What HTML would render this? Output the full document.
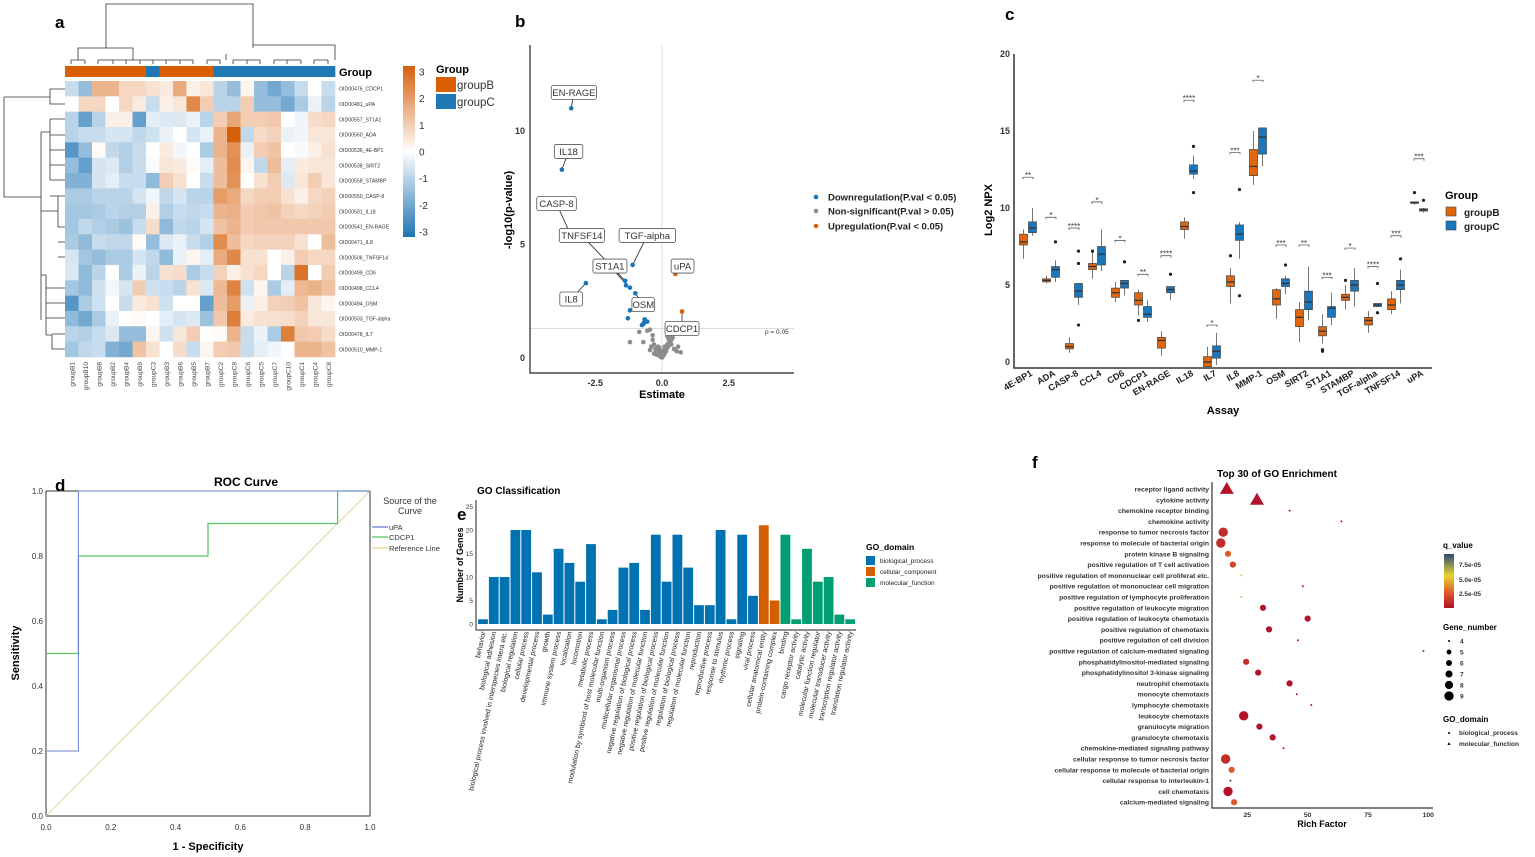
<!DOCTYPE html>
<html><head><meta charset="utf-8">
<style>
html,body{margin:0;padding:0;background:#fff;}
svg{display:block;font-family:"Liberation Sans",sans-serif;}
</style></head>
<body>
<svg id="fig" width="1535" height="857" viewBox="0 0 1535 857" xmlns="http://www.w3.org/2000/svg">
<g id="pa"></g>
<g id="pb"></g>
<g id="pc"></g>
<g id="pd"></g>
<g id="pe"></g>
<g id="pf"></g>
</svg>
<script>
// ---------- Panel a data ----------
const hmCols=["groupB1","groupB10","groupB8","groupB2","groupB4","groupB9","groupC3","groupB3","groupB6","groupB5","groupB7","groupC2","groupC9","groupC6","groupC5","groupC7","groupC10","groupC1","groupC4","groupC8"];
const hmRows=["OID00476_CDCP1","OID00481_uPA","OID00557_ST1A1","OID00560_ADA","OID00536_4E-BP1","OID00538_SIRT2","OID00558_STAMBP","OID00550_CASP-8","OID00501_IL18","OID00541_EN-RAGE","OID00471_IL8","OID00506_TNFSF14","OID00499_CD6","OID00498_CCL4","OID00494_OSM","OID00503_TGF-alpha","OID00478_IL7","OID00510_MMP-1"];
const hmVals=[
[-0.8,-1.5,1.5,1.5,0.8,0.8,0.6,0.4,1.7,0.3,0.5,-1,-1.5,0.2,-1.5,-2,-1.5,-0.8,0,-0.8],
[0,0.8,0.8,0,0.8,0.4,-0.8,0.3,0.5,2.4,1,-1,-1,1,-1.5,-1.5,-2,-1.2,-0.3,-1],
[-1,-2.2,-1,0.3,0.3,-2.2,-0.4,-0.5,-0.5,-0.3,-1,1,1.8,1,1,1.1,0,-0.2,0.7,0.8],
[-1,-0.8,-0.8,-0.6,-0.6,-0.9,-0.7,-0.3,0,-0.6,-0.3,1.5,3.2,-0.9,0.7,0.9,-0.3,-0.2,0.5,0.5],
[-2.4,-1.5,0.1,-0.9,-1.1,-0.8,0,0.4,-0.2,0,-1.2,1.5,2.2,-0.3,1,1.2,0,-0.1,0.3,0.6],
[-1.5,-2.2,-0.6,-0.5,-1.1,-0.8,-0.1,0.5,0.4,0.1,-0.4,1.3,2.3,0.2,-0.9,1.3,-0.4,0.4,0.5,0.5],
[-1.8,-1.8,-0.6,-0.4,-0.8,-0.8,-1.6,1,0.6,0,-0.8,1.3,2.2,0,0.6,1,-0.5,0.5,1,0.5],
[-1.2,-1.2,-1,-1,-1,-0.6,-0.2,-0.9,-0.6,-1,-1,2,1.7,0.8,1,1,0.6,0.3,0.8,0.9],
[-1.3,-1.3,-1.2,-1,-1.1,-1.1,0.3,-1.1,-0.8,-0.9,-0.8,1.5,1.6,1,1.1,1.2,0.9,0.8,0.9,1],
[-1.3,-0.9,-1.1,-1.2,-1.4,-0.8,0.7,-1.6,-0.9,-1,-0.6,1.2,1.5,1,1.1,1.1,1.1,1.1,1.1,1.1],
[-1.2,-1.6,-0.8,-0.9,-0.9,0.1,-1.5,-0.5,-0.3,-0.8,-1.1,2.3,1.3,0.8,0.9,0.9,0.9,0.6,0,1.3],
[-0.6,-1.3,-1.5,-1.2,-1.2,-0.6,-0.9,-1.6,-0.3,0.2,-0.4,1.7,2.4,0.6,0.6,0,0.3,1,0.8,0.8],
[-0.5,-1.6,-1,0,-1.2,-0.3,-1,0.6,0.7,-1.2,-0.8,0.9,0.3,0.6,0.8,0,-1,2.8,0,1],
[-1.3,-1.6,-0.7,-0.2,-0.6,1,-0.7,-0.8,-1,0.6,-0.5,1.4,2.5,-0.7,0.2,-1.2,-0.4,1.4,1.6,1.2],
[-2.4,-1.2,-0.7,0,-0.8,0.4,0.6,-0.7,0,0,-2.2,1.3,2,-0.3,0.3,0.9,1,1.2,0.5,0.2],
[-1.6,-2,-1.2,-0.3,0,0.1,0,-0.4,-0.6,-0.5,-1.4,1.1,2.6,0.4,0.6,0.6,0.7,0.9,0.5,0.5],
[-1,-1.1,-0.8,-0.5,-1.5,-1.5,0.2,-0.7,0.5,1,0,0.1,1.5,-0.8,-0.3,-1.2,2.6,1.1,1,0.7],
[-1.3,-0.9,-0.8,-1.8,-2,1.2,0.6,0,0.7,-0.8,0.2,1,1.1,-0.8,-0.4,-0.2,0,1.5,1.5,1.2]];
const hmTicks=[3,2,1,0,-1,-2,-3];
// ---------- Panel b data ----------
const vDownX=[-3.4,-3.75,-2.85,-1.1,-1.38,-1.35,-1.2,-1.0,-1.2,-1.28,-0.7,-0.65,-0.55,-0.75,-0.68];
const vDownY=[11,8.3,3.3,4.1,3.4,3.2,3.1,2.85,2.1,1.75,1.5,1.7,1.6,1.45,1.55];
const vUpX=[0.5,0.75];
const vUpY=[3.7,2.05];
const vNsX=[-1.2,-0.7,-0.85,-0.55,-0.45,-0.35,-0.3,-0.4,-0.2,-0.15,-0.1,-0.05,0,0.05,0.1,0.15,0.2,0.25,0.3,0.35,0.4,0.5,0.6,-0.25,-0.3,-0.2,-0.1,0.1,0.2,0.3,0.05,-0.05,0.15,-0.15,0.25,0.35,0.45,-0.35,-0.45,0.55,0.7,0.0,0.1,-0.1,0.2,0.3];
const vNsY=[0.7,0.7,1.15,1.2,1.25,1.0,0.6,0.5,0.3,0.2,0.1,0.05,0.02,0.1,0.2,0.3,0.45,0.55,0.7,0.8,0.9,1.1,0.5,0.4,0.2,0.15,0.3,0.35,0.6,1.0,0.25,0.15,0.4,0.5,0.8,0.6,0.4,0.8,0.35,0.3,0.25,0.3,0.5,0.45,0.95,1.2];
const vLabels=["EN-RAGE","IL18","CASP-8","TNFSF14","TGF-alpha","ST1A1","IL8","OSM","uPA","CDCP1"];
const vLabX=[-3.3,-3.5,-3.95,-3.0,-0.55,-1.95,-3.4,-0.7,0.77,0.75];
const vLabY=[11.7,9.1,6.8,5.4,5.4,4.05,2.6,2.35,4.05,1.3];
const vLabPtX=[-3.4,-3.75,-3.45,-1.38,-1.1,-1.3,-2.85,-1.0,0.5,0.75];
const vLabPtY=[11,8.3,5.5,3.4,4.1,3.2,3.3,2.85,3.7,2.05];
const vXTicks=[-2.5,0,2.5];
const vXTickLabels=["-2.5","0.0","2.5"];
const vYTicks=[0,5,10];
// ---------- Panel c data ----------
const bxCats=["4E-BP1","ADA","CASP-8","CCL4","CD6","CDCP1","EN-RAGE","IL18","IL7","IL8","MMP-1","OSM","SIRT2","ST1A1","STAMBP","TGF-alpha","TNFSF14","uPA"];
const bxB=[[6.7,7.6,7.8,8.3,8.6],[5.1,5.2,5.3,5.4,5.6],[0.6,0.85,1,1.2,1.6],[5.4,6,6.2,6.4,7.2],[3.9,4.2,4.5,4.8,5.2],[3,3.7,4,4.5,4.7],[0.4,0.9,1.4,1.6,2],[8,8.6,8.8,9.1,9.4],[-0.3,-0.3,0,0.35,1],[3.8,4.9,5.2,5.6,6.1],[11.5,12.1,12.7,13.8,15],[2.8,3.7,4.1,4.7,4.8],[1.3,2.3,2.9,3.4,3.9],[1.2,1.7,2,2.3,3.1],[3.4,4,4.2,4.4,5],[1.9,2.4,2.7,2.9,3.3],[3.1,3.4,3.7,4.1,4.6],[10.2,10.3,10.35,10.4,10.4]];
const bxC=[[8.2,8.4,8.7,9.1,10],[5.2,5.5,6,6.2,6.6],[3.7,4.2,4.6,5.1,5.1],[5.9,6.3,7,7.5,8.6],[4.3,4.8,5.1,5.3,5.3],[2.6,2.9,3.1,3.6,4],[4,4.5,4.7,4.9,4.9],[11.9,12.2,12.4,12.8,13.4],[-0.2,0.25,0.7,1.05,1.9],[6.7,7.9,8.3,8.9,9.1],[12.7,13.5,14.6,15.2,15.2],[4.4,4.9,5.1,5.4,5.6],[2.7,3.4,3.9,4.6,6.2],[2.4,2.9,3.5,3.6,4.5],[3.6,4.6,5,5.3,6.1],[3.6,3.6,3.7,3.8,3.8],[3.8,4.7,5,5.3,6],[9.7,9.8,9.9,9.95,10]];
const bxOutB=[[],[],[],[7.2],[],[2.7],[],[],[],[6.9],[],[],[],[0.8,0.7],[5.3],[],[],[11]];
const bxOutC=[[],[7.8],[7.2,6.4,2.4],[],[6.5],[],[5.7],[14,11],[],[11.2,4.3],[],[6.3],[],[],[],[5.1,3.2],[6.7],[10.5]];
const bxSig=["**","*","****","*","*","**","****","****","*","***","*","***","**","***","*","****","***","***"];
const bxSigY=[12,9.4,8.7,10.4,7.9,5.7,6.9,17,2.4,13.6,18.3,7.6,7.6,5.5,7.4,6.2,8.2,13.2];
const bxYTicks=[0,5,10,15,20];
// ---------- Panel d data ----------
const rocUpaX=[0,0.1,0.1,0.1,1];
const rocUpaY=[0.2,0.2,0.8,1,1];
const rocCdX=[0,0.1,0.1,0.5,0.5,0.9,0.9,1];
const rocCdY=[0.5,0.5,0.8,0.8,0.9,0.9,1,1];
const rocTicks=[0,0.2,0.4,0.6,0.8,1.0];
// ---------- Panel e data ----------
const goCats=["behavior","biological adhesion","biological process involved in interspecies intera etc.","biological regulation","cellular process","developmental process","growth","immune system process","localization","locomotion","metabolic process","modulation by symbiont of host molecular function","multi-organism process","multicellular organismal process","negative regulation of biological process","negative regulation of molecular function","positive regulation of biological process","positive regulation of molecular function","regulation of biological process","regulation of molecular function","reproduction","reproductive process","response to stimulus","rhythmic process","signaling","viral process","cellular anatomical entity","protein-containing complex","binding","cargo receptor activity","catalytic activity","molecular function regulator","molecular transducer activity","transcription regulator activity","translation regulator activity"];
const goVals=[1,10,10,20,20,11,2,16,13,9,17,1,3,12,13,3,19,9,19,12,4,4,20,1,19,6,21,5,19,1,16,9,10,2,1];
const goDom=[0,0,0,0,0,0,0,0,0,0,0,0,0,0,0,0,0,0,0,0,0,0,0,0,0,0,1,1,2,2,2,2,2,2,2];
const goTicks=[0,5,10,15,20,25];
// ---------- Panel f data ----------
const enTerms=["receptor ligand activity","cytokine activity","chemokine receptor binding","chemokine activity","response to tumor necrosis factor","response to molecule of bacterial origin","protein kinase B signaling","positive regulation of T cell activation","positive regulation of mononuclear cell proliferat etc.","positive regulation of mononuclear cell migration","positive regulation of lymphocyte proliferation","positive regulation of leukocyte migration","positive regulation of leukocyte chemotaxis","positive regulation of chemotaxis","positive regulation of cell division","positive regulation of calcium-mediated signaling","phosphatidylinositol-mediated signaling","phosphatidylinositol 3-kinase signaling","neutrophil chemotaxis","monocyte chemotaxis","lymphocyte chemotaxis","leukocyte chemotaxis","granulocyte migration","granulocyte chemotaxis","chemokine-mediated signaling pathway","cellular response to tumor necrosis factor","cellular response to molecule of bacterial origin","cellular response to interleukin-1","cell chemotaxis","calcium-mediated signaling"];
const enRich=[16.5,29,42.5,64,15,14,17,19,22.5,48,22.5,31.5,50,34,46,98,24.5,29.5,42.5,45.5,51.5,23.5,30,35.5,40,16,18.5,18,17,19.5];
const enGenes=[9,9,4,4,8,8,6,6,4,4,4,6,6,6,4,4,6,6,6,4,4,8,6,6,4,8,6,4,8,6];
const enQ=[1e-6,1e-6,1e-6,1e-6,1e-5,1e-5,2.5e-5,1.8e-5,5e-5,1e-6,5e-5,1e-6,1e-6,1e-6,1e-6,1e-6,1e-5,1e-6,1e-6,1e-6,1e-6,1e-6,1e-6,1e-6,1e-6,1e-5,2.5e-5,9e-5,1e-6,2.5e-5];
const enShape=[1,1,0,0,0,0,0,0,0,0,0,0,0,0,0,0,0,0,0,0,0,0,0,0,0,0,0,0,0,0];
const enXTicks=[25,50,75,100];

const NS="http://www.w3.org/2000/svg";
function mk(parent,tag,attrs,text){const e=document.createElementNS(NS,tag);for(const k in attrs)e.setAttribute(k,attrs[k]);if(text!==undefined)e.textContent=text;parent.appendChild(e);return e;}
function lerp(a,b,t){return a+(b-a)*t;}
function hex(c){return [parseInt(c.slice(1,3),16),parseInt(c.slice(3,5),16),parseInt(c.slice(5,7),16)];}
function mix(c1,c2,t){const a=hex(c1),b=hex(c2);return "rgb("+a.map((v,i)=>Math.round(lerp(v,b[i],t))).join(",")+")";}
function hmColor(v){v=Math.max(-3.2,Math.min(3.2,v));return v>=0?mix("#ffffff","#d5600c",v/3.2):mix("#ffffff","#1f74b4",-v/3.2);}
function label(p,x,y,t,sz,opts){const a=Object.assign({x:x,y:y,"font-size":sz},opts||{});const e=mk(p,"text",a,t);return e;}

// ===== Panel a =====
(function(){
const g=document.getElementById("pa");
const x0=65,y0=81,cw=13.5,rh=15.33;
const pl=label(g,55,28,"a",17,{"font-weight":"bold"});

hmCols.forEach((c,j)=>{const r=mk(g,"rect",{x:x0+j*cw,y:66,width:cw+0.3,height:11,fill:c.indexOf("groupB")===0?"#d95f02":"#1f78b4"});
});
const gl=label(g,339,76,"Group",11,{"font-weight":"bold"});
hmVals.forEach((row,i)=>{row.forEach((v,j)=>{const r=mk(g,"rect",{x:x0+j*cw,y:y0+i*rh,width:cw+0.3,height:rh+0.3,fill:hmColor(v)});
});
const t=label(g,339,y0+i*rh+rh/2+2,hmRows[i],5.2,{fill:"#333"});});
hmCols.forEach((c,j)=>{const t=label(g,0,0,c,6.5,{fill:"#444","text-anchor":"end",transform:"translate("+(x0+j*cw+cw/2+2.5)+",362) rotate(-90)"});
});
const dp="M106,48 V4 H253 V48 M78,60 V48 H133 V60 M253,48 V45 H335 V60 M71,60 V64 M85,60 V64 M98,60 V64 M113,60 V64 M126,60 V64 M140,60 V64 M153,60 V64 M166,60 V64 M180,60 V64 M193,60 V64 M207,60 V64 M220,60 V64 M233,60 V64 M247,60 V64 M260,60 V64 M274,60 V64 M287,60 V64 M301,60 V64 M314,60 V64 M328,60 V64 M71,60 H85 M98,60 H193 M207,60 H220 M226,54 V60 M233,60 H260 M274,60 H301 M314,60 H328";
const d1=mk(g,"path",{d:dp,fill:"none",stroke:"#333","stroke-width":0.8});
const rp="M4,97 V197 H41 M4,97 H50 M50,89 V104 H65 M50,89 H65 M41,132 V320 M41,132 H50 V175 M50,119 H65 M50,135 H65 M50,150 H65 M50,165 H65 M50,180 H65 M50,196 H65 M41,211 H58 M58,196 V227 M58,242 H65 M58,257 H65 M41,275 H46 V335 M46,288 H65 M46,303 H65 M46,318 H65 M46,335 H52 V349 H65 M52,334 H65 M50,119 V180 M58,196 H65 M58,227 H65";
const d2=mk(g,"path",{d:rp,fill:"none",stroke:"#333","stroke-width":0.8});
const defs=mk(g,"defs",{});const lg=mk(defs,"linearGradient",{id:"hmg",x1:0,y1:0,x2:0,y2:1});
[[0,"#d5600c"],[0.5,"#ffffff"],[1,"#1f74b4"]].forEach(s=>mk(lg,"stop",{offset:s[0],"stop-color":s[1]}));
const cb=mk(g,"rect",{x:403,y:66,width:12,height:171,fill:"url(#hmg)"});
hmTicks.forEach(v=>{const y=66+(3.2-v)/6.4*171;const t=label(g,419,y+4,String(v),10,{fill:"#333"});});
const lt=label(g,436,73,"Group",11,{"font-weight":"bold"});
[["groupB","#d95f02",77],["groupC","#1f78b4",94]].forEach(e=>{const r=mk(g,"rect",{x:436,y:e[2],width:20,height:15,fill:e[1]});
const t=label(g,457,e[2]+12,e[0],11.5,{fill:"#333"});});
})();

// ===== Panel b =====
(function(){
const g=document.getElementById("pb");
const X=v=>662+v*26.7, Y=v=>358-v*22.7;
const pl=label(g,515,27,"b",17,{"font-weight":"bold"});
const vl=mk(g,"line",{x1:X(0),x2:X(0),y1:45,y2:373,stroke:"#ddd"});
const hl=mk(g,"line",{x1:530,x2:794,y1:Y(1.3),y2:Y(1.3),stroke:"#ddd"});
const ht=label(g,765,334,"p = 0.05",6.5,{fill:"#333"});
const ax=mk(g,"path",{d:"M530,45 V373 H794",fill:"none",stroke:"#222","stroke-width":1.2});
vXTicks.forEach((v,i)=>{const t=label(g,X(v),386,vXTickLabels[i],9,{"text-anchor":"middle","font-weight":"bold",fill:"#333"});});
vYTicks.forEach(v=>{const t=label(g,525,Y(v)+3,String(v),9,{"text-anchor":"end","font-weight":"bold",fill:"#333"});});
const xt=label(g,662,398,"Estimate",11,{"text-anchor":"middle","font-weight":"bold"});
const yt=label(g,0,0,"-log10(p-value)",11,{"text-anchor":"middle","font-weight":"bold",transform:"translate(512,210) rotate(-90)"});
vNsX.forEach((v,i)=>{const c=mk(g,"circle",{cx:X(v),cy:Y(vNsY[i]),r:2.3,fill:"#8c8c8c"});});
vLabels.forEach((l,i)=>{const ln=mk(g,"line",{x1:X(vLabPtX[i]),y1:Y(vLabPtY[i]),x2:X(vLabX[i]),y2:Y(vLabY[i]),stroke:"#222","stroke-width":0.8});});
vDownX.forEach((v,i)=>{const c=mk(g,"circle",{cx:X(v),cy:Y(vDownY[i]),r:2.3,fill:"#1a74b8"});});
vUpX.forEach((v,i)=>{const c=mk(g,"circle",{cx:X(v),cy:Y(vUpY[i]),r:2.3,fill:"#d95f02"});});
vLabels.forEach((l,i)=>{const w=l.length*5.6+6;const cx=X(vLabX[i]),cy=Y(vLabY[i]);
const r=mk(g,"rect",{x:cx-w/2,y:cy-7,width:w,height:14,rx:2,fill:"#fff",stroke:"#555","stroke-width":0.8});
const t=label(g,cx,cy+3.5,l,9.5,{"text-anchor":"middle",fill:"#333"});});
[["Downregulation(P.val < 0.05)","#1a74b8",197],["Non-significant(P.val > 0.05)","#8c8c8c",211],["Upregulation(P.val < 0.05)","#d95f02",226]].forEach(e=>{
const c=mk(g,"circle",{cx:816,cy:e[2],r:2.3,fill:e[1]});
const t=label(g,828,e[2]+3.5,e[0],9.5,{"font-weight":"bold",fill:"#222"});});
})();

// ===== Panel c =====
(function(){
const g=document.getElementById("pc");
const Y=v=>362-v*15.4, X=i=>1028+i*23;
const pl=label(g,1005,20,"c",17,{"font-weight":"bold"});
const ax=mk(g,"path",{d:"M1014,54 V368 H1432",fill:"none",stroke:"#333","stroke-width":1.5});
bxYTicks.forEach(v=>{const t=label(g,1010,Y(v)+3,String(v),9,{"text-anchor":"end","font-weight":"bold",fill:"#333"});});
const yt=label(g,0,0,"Log2 NPX",11,{"text-anchor":"middle","font-weight":"bold",transform:"translate(992,210) rotate(-90)"});
const xt=label(g,1223,414,"Assay",11,{"text-anchor":"middle","font-weight":"bold"});
function box(cx,s,out,col){const w=8;
const wl=mk(g,"line",{x1:cx,x2:cx,y1:Y(s[0]),y2:Y(s[4]),stroke:"#555","stroke-width":0.8});
const r=mk(g,"rect",{x:cx-w/2,y:Y(s[3]),width:w,height:Math.max(1,Y(s[1])-Y(s[3])),fill:col,stroke:"#444","stroke-width":0.7});
const m=mk(g,"line",{x1:cx-w/2,x2:cx+w/2,y1:Y(s[2]),y2:Y(s[2]),stroke:"#333","stroke-width":1.3});
out.forEach(o=>{const c=mk(g,"circle",{cx:cx,cy:Y(o),r:1.6,fill:"#222"});});}
bxCats.forEach((c,i)=>{box(X(i)-4.5,bxB[i],bxOutB[i],"#e0660f");box(X(i)+4.5,bxC[i],bxOutC[i],"#1a76bd");
const y=Y(bxSigY[i]);const br=mk(g,"path",{d:"M"+(X(i)-5)+","+(y+2)+" V"+y+" H"+(X(i)+5)+" V"+(y+2),fill:"none",stroke:"#444","stroke-width":0.7});
const st=label(g,X(i),y+1,bxSig[i],8,{"text-anchor":"middle",fill:"#333"});
const t=label(g,0,0,c,9,{"text-anchor":"end","font-weight":"bold",fill:"#222",transform:"translate("+(X(i)+5)+",375) rotate(-30)"});});
const lt=label(g,1445,199,"Group",11,{"font-weight":"bold"});
[["groupB","#e0660f",212],["groupC","#1a76bd",226]].forEach(e=>{const r=mk(g,"rect",{x:1446,y:e[2]-5,width:10,height:9,fill:e[1],stroke:"#444","stroke-width":0.6});
const t=label(g,1464,e[2]+4,e[0],10,{"font-weight":"bold",fill:"#222"});});
})();

// ===== Panel d =====
(function(){
const g=document.getElementById("pd");
const X=v=>46+v*324, Y=v=>816-v*325;
const pl=label(g,55,491,"d",17,{"font-weight":"bold"});
const tt=label(g,246,486,"ROC Curve",12,{"text-anchor":"middle","font-weight":"bold"});
const fr=mk(g,"rect",{x:46,y:491,width:324,height:325,fill:"none",stroke:"#333","stroke-width":1});
rocTicks.forEach(v=>{const t=label(g,X(v),830,v.toFixed(1),8,{"text-anchor":"middle",fill:"#333"});
const t2=label(g,43,Y(v)+3,v.toFixed(1),8,{"text-anchor":"end",fill:"#333"});});
const rl=mk(g,"line",{x1:X(0),y1:Y(0),x2:X(1),y2:Y(1),stroke:"#e3d79a","stroke-width":1});
const cd=mk(g,"polyline",{points:rocCdX.map((v,i)=>X(v)+","+Y(rocCdY[i])).join(" "),fill:"none",stroke:"#5cc468","stroke-width":1.3});
const up=mk(g,"polyline",{points:rocUpaX.map((v,i)=>X(v)+","+Y(rocUpaY[i])).join(" "),fill:"none",stroke:"#6b7fd6","stroke-width":1});
const xt=label(g,208,850,"1 - Specificity",11,{"text-anchor":"middle","font-weight":"bold"});
const yt=label(g,0,0,"Sensitivity",11,{"text-anchor":"middle","font-weight":"bold",transform:"translate(19,653) rotate(-90)"});
const l1=label(g,410,504,"Source of the",9,{"text-anchor":"middle",fill:"#333"});
const l2=label(g,410,514,"Curve",9,{"text-anchor":"middle",fill:"#333"});
[["uPA","#6b7fd6",527],["CDCP1","#5cc468",537],["Reference Line","#e3d79a",548]].forEach(e=>{const ln=mk(g,"line",{x1:372,x2:388,y1:e[2],y2:e[2],stroke:e[1],"stroke-width":1.3});
const t=label(g,389,e[2]+3,e[0],7.5,{fill:"#333"});});
})();

// ===== Panel e =====
(function(){
const g=document.getElementById("pe");
const Y=v=>624-v*4.7, X=i=>483+i*10.8;
const pl=label(g,457,520,"e",17,{"font-weight":"bold"});
const tt=label(g,477,494,"GO Classification",10,{"font-weight":"bold"});
const cols=["#0072b2","#d55e00","#009e73"];
goVals.forEach((v,i)=>{const r=mk(g,"rect",{x:X(i)-4.9,y:Y(v),width:9.8,height:v*4.7,fill:cols[goDom[i]]});
const t=label(g,0,0,goCats[i],7,{"text-anchor":"end",fill:"#222",transform:"translate("+(X(i)+2.5)+",632) rotate(-78)"});});
const ax=mk(g,"path",{d:"M476,500 V630 H856",fill:"none",stroke:"#222","stroke-width":1});
goTicks.forEach(v=>{const t=label(g,473,Y(v)+2.5,String(v),6.5,{"text-anchor":"end",fill:"#333"});});
const yt=label(g,0,0,"Number of Genes",9,{"text-anchor":"middle","font-weight":"bold",transform:"translate(463,565) rotate(-90)"});
const lt=label(g,866,550,"GO_domain",8.5,{"font-weight":"bold"});
[["biological_process",556],["cellular_component",567],["molecular_function",578]].forEach((e,k)=>{const r=mk(g,"rect",{x:866,y:e[1],width:9,height:9,fill:cols[k]});
const t=label(g,880,e[1]+7,e[0],6.5,{fill:"#222"});});
})();

// ===== Panel f =====
(function(){
const g=document.getElementById("pf");
const X=v=>1187+v*2.413, Y=i=>489+i*10.8;
const pl=label(g,1032,468,"f",17,{"font-weight":"bold"});
const tt=label(g,1277,477,"Top 30 of GO Enrichment",10,{"text-anchor":"middle","font-weight":"bold"});
const ax=mk(g,"path",{d:"M1212,482 V808 H1433",fill:"none",stroke:"#333","stroke-width":1.2});
function qcol(q){const t=Math.min(1,q/9e-5);if(t<0.3)return mix("#b0122a","#e0602a",t/0.3);if(t<0.6)return mix("#e0602a","#e8d52a",(t-0.3)/0.3);return mix("#e8d52a","#2c4a78",(t-0.6)/0.4);}
function rad(n){return n<=4?1:(n-4)*0.8+1.5;}
enTerms.forEach((t,i)=>{const y=Y(i);const tx=label(g,1209,y+2.5,t,6.8,{"text-anchor":"end","font-weight":"bold",fill:"#333"});
let m;const x=X(enRich[i]);
if(enShape[i]){const s=7;m=mk(g,"polygon",{points:(x)+","+(y-s)+" "+(x-s)+","+(y+s*0.7)+" "+(x+s)+","+(y+s*0.7),fill:qcol(enQ[i])});}
else m=mk(g,"circle",{cx:x,cy:y,r:rad(enGenes[i]),fill:qcol(enQ[i])});
});
enXTicks.forEach(v=>{const t=label(g,X(v),817,String(v),6.8,{"text-anchor":"middle","font-weight":"bold",fill:"#333"});});
const xt=label(g,1322,827,"Rich Factor",9,{"text-anchor":"middle","font-weight":"bold"});
const qt=label(g,1443,548,"q_value",8,{"font-weight":"bold"});
const defs=mk(g,"defs",{});const lg=mk(defs,"linearGradient",{id:"qg",x1:0,y1:0,x2:0,y2:1});
[[0,"#2c4a78"],[0.4,"#e8d52a"],[0.7,"#e0602a"],[1,"#b0122a"]].forEach(s=>mk(lg,"stop",{offset:s[0],"stop-color":s[1]}));
const cb=mk(g,"rect",{x:1444,y:554,width:10,height:54,fill:"url(#qg)"});
[["7.5e-05",565],["5.0e-05",580],["2.5e-05",594]].forEach(e=>{const t=label(g,1459,e[1]+2,e[0],6.5,{"font-weight":"bold",fill:"#333"});});
const gt=label(g,1443,630,"Gene_number",8,{"font-weight":"bold"});
[4,5,6,7,8,9].forEach((n,k)=>{const y=641+k*11;const c=mk(g,"circle",{cx:1449,cy:y,r:n===4?1:1.9+k*0.55,fill:"#000"});
const t=label(g,1460,y+2.5,String(n),6.5,{"font-weight":"bold",fill:"#333"});});
const dt=label(g,1443,722,"GO_domain",8,{"font-weight":"bold"});
const c1=mk(g,"circle",{cx:1449,cy:733,r:1,fill:"#000"});
const t1=label(g,1459,735,"biological_process",6.5,{"font-weight":"bold",fill:"#333"});
const p1=mk(g,"polygon",{points:"1449,742 1447.5,745 1450.5,745",fill:"#000"});
const t2=label(g,1459,746,"molecular_function",6.5,{"font-weight":"bold",fill:"#333"});
})();
</script>
</body></html>
